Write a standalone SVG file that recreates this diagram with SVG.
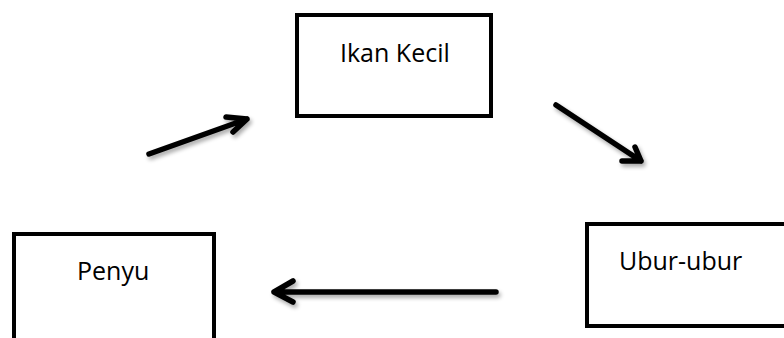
<svg xmlns="http://www.w3.org/2000/svg" width="784" height="338" viewBox="0 0 784 338">
  <defs>
    <filter id="soft" x="-20%" y="-40%" width="140%" height="180%">
      <feGaussianBlur in="SourceAlpha" stdDeviation="2"/>
      <feOffset dx="2" dy="3" result="b"/>
      <feComponentTransfer><feFuncA type="linear" slope="0.35"/></feComponentTransfer>
      <feMerge><feMergeNode/><feMergeNode in="SourceGraphic"/></feMerge>
    </filter>
  </defs>
  <style>
    .box { fill: #fff; stroke: #000; stroke-width: 4; }
    .label { font-family: "Open Sans", "Liberation Sans", sans-serif; font-size: 25px; fill: #000; }
    .arrow { fill: none; stroke: #000; stroke-width: 5.5; stroke-linecap: round; stroke-linejoin: round; }
  </style>
  <rect width="784" height="338" fill="#fff"/>

  <g id="ikan-kecil">
    <rect class="box" x="297" y="15" width="194" height="101"/>
    <text class="label" x="340" y="62">Ikan Kecil</text>
  </g>

  <g id="ubur-ubur">
    <rect class="box" x="587" y="224" width="210" height="102"/>
    <text class="label" x="619" y="270">Ubur-ubur</text>
  </g>

  <g id="penyu">
    <rect class="box" x="14" y="234" width="200" height="108"/>
    <text class="label" x="77" y="280">Penyu</text>
  </g>

  <g id="connectors" filter="url(#soft)">
    <path class="arrow" d="M149,154 L247,119 M226,117 L247,119 L233,132"/>
    <path class="arrow" d="M556,105 L641,161 M622,161 L641,161 L635,147"/>
    <path class="arrow" d="M496,292 L274,292 M293,281 L274,292 L293,302"/>
  </g>
</svg>
